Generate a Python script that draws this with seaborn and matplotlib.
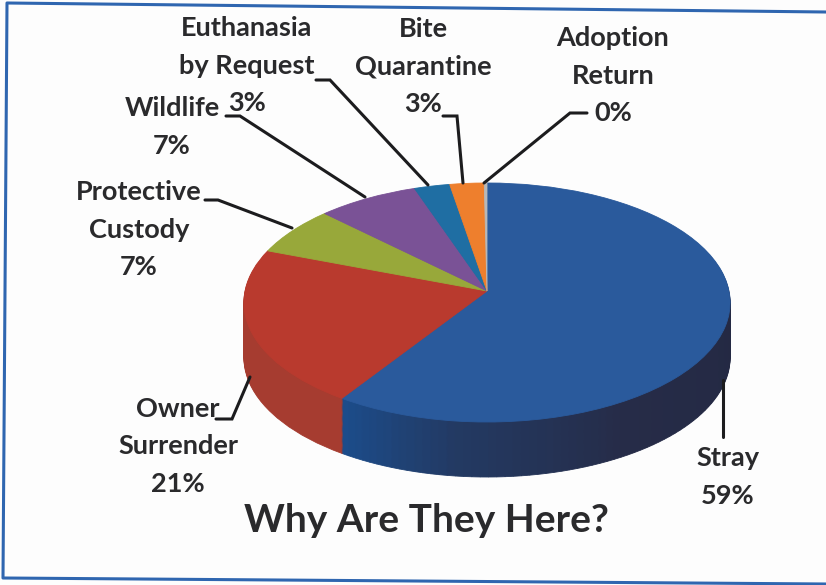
import numpy as np
import seaborn as sns
import matplotlib.pyplot as plt
from matplotlib.colors import LinearSegmentedColormap
from matplotlib.transforms import Affine2D, Transform

sns.set_theme(style="white")
plt.rcParams['font.family'] = ['Lato', 'DejaVu Sans']

# slice sizes, they round to the printed percents
categories = ['Stray', 'Owner\nSurrender', 'Protective\nCustody', 'Wildlife',
              'Euthanasia\nby Request', 'Bite\nQuarantine', 'Adoption\nReturn']
percents = ['59%', '21%', '7%', '7%', '3%', '3%', '0%']
shares = [59.3, 21.4, 6.6, 7.4, 2.6, 2.5, 0.2]
top_colors = ['#2a5a9c', '#b93a2e', '#98a83a', '#7a5296', '#1f6ea3', '#ee7f2d', '#b8b8b8']
side_colors = ['#23304f', '#a63c30', '#7d8a30', '#5f4076', '#185878', '#c0651f', '#909090']


# tilts the flat unit pie: the near half comes out bigger than the far half
class Tilt(Transform):
    input_dims = 2
    output_dims = 2

    def transform_non_affine(self, values):
        values = np.asarray(values)
        w = 1 + 0.0962 * values[:, 1]
        return np.column_stack([242 * values[:, 0] / w, -118.4 * values[:, 1] / w])

    def transform_path_non_affine(self, path):
        return path.__class__(self.transform_non_affine(path.vertices), path.codes)


fig = plt.figure(figsize=(8.26, 5.85), dpi=100)
fig.patch.set_facecolor('#fdfdfd')
ax = fig.add_axes([0, 0, 1, 1], facecolor='none')

hub_x, hub_y = 487, 291
wall_px = 55

stray_ramp = LinearSegmentedColormap.from_list(
    'stray', [(0, '#20233a'), (0.7, '#262c48'), (0.88, '#233a63'), (1, '#1c4c8a')])
n_steps = 120
wall_values = [shares[0] / n_steps] * n_steps + shares[1:]
wall_colors = [stray_ramp(i / (n_steps - 1)) for i in range(n_steps)] + side_colors[1:]


def draw_layer(values, colors, drop):
    wedges, _ = ax.pie(values, colors=colors, startangle=90, counterclock=False, radius=1)
    place = Tilt() + Affine2D().translate(hub_x, hub_y + drop) + ax.transData
    for w in wedges:
        w.set_transform(place)
        w.set_edgecolor(w.get_facecolor())
        w.set_linewidth(0.6)
        w.set_clip_on(False)


for drop in np.linspace(wall_px, 1, 50):
    draw_layer(wall_values, wall_colors, drop)
draw_layer(shares, top_colors, 0)

ax.set_aspect('auto')
ax.set_xlim(0, 826)
ax.set_ylim(585, 0)
ax.axis('off')

ink = '#2a2a2c'
# x centre and y of the first line of each label, one text per line
label_xy = [(728, 458), (178, 409), (139, 192), (172, 108), (247, 28), (423, 29), (613, 38)]
line_px = 37.5
for name, pct, (x, y) in zip(categories, percents, label_xy):
    for i, line in enumerate(name.split('\n') + [pct]):
        ax.text(x, y + i * line_px, line, ha='center', va='center', fontsize=19.5,
                fontweight='bold', color=ink)

leaders = [
    ([587, 570, 484], [113, 113, 183]),
    ([443, 457, 463], [116, 116, 183]),
    ([316, 330, 428], [80, 80, 185]),
    ([226, 240, 365], [116, 116, 197]),
    ([205, 218, 292], [200, 200, 228]),
    ([216, 232, 250], [419, 419, 377]),
    ([723, 723], [380, 437]),
]
for xs, ys in leaders:
    ax.plot(xs, ys, color='#1c1c1e', lw=2.2, solid_joinstyle='miter')

ax.text(426, 521, 'Why Are They Here?', ha='center', va='center', fontsize=28,
        fontweight='bold', color=ink)

# scanned frame, slightly skewed
ax.plot([826, 7, 3, 826], [12, 3, 578, 584], color='#2f66b0', lw=2.2, clip_on=False)

fig.savefig('out.png', dpi=100)
